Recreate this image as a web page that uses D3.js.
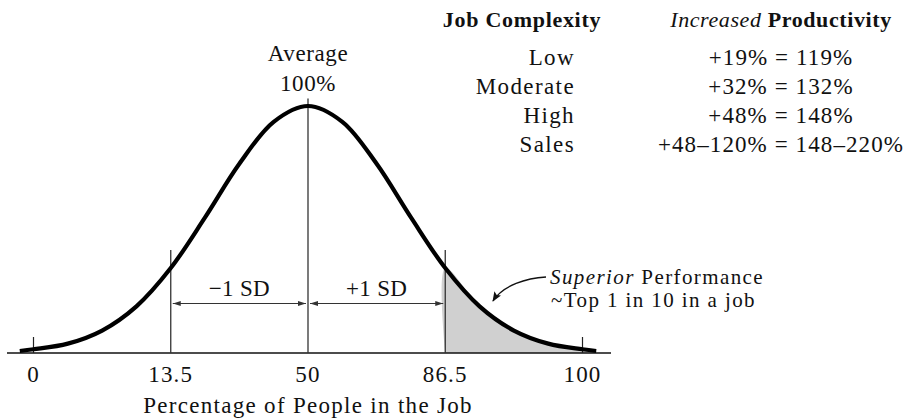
<!DOCTYPE html>
<html>
<head>
<meta charset="utf-8">
<script src="https://cdn.jsdelivr.net/npm/d3@7"></script>
<style>
  body { margin: 0; background: #fff; }
  text { font-family: "Liberation Serif", "Times New Roman", serif; fill: #111; }
</style>
</head>
<body>
<div id="chart"></div>
<script>
// curve: position in SD units, height as share of the peak
const curveZ = [-2.1, -2, -1.75, -1.5, -1.25, -1, -0.75, -0.5, -0.25, 0, 0.25, 0.5, 0.75, 1, 1.25, 1.5, 1.75, 2, 2.1];
const curveH = [0.008, 0.015, 0.038, 0.091, 0.189, 0.344, 0.549, 0.766, 0.936, 1, 0.936, 0.766, 0.549, 0.344, 0.189, 0.091, 0.038, 0.015, 0.008];

const tickZ = [-2, -1, 0, 1, 2];
const tickLabels = ["0", "13.5", "50", "86.5", "100"];

const complexity = ["Low", "Moderate", "High", "Sales"];
const productivity = ["+19% = 119%", "+32% = 132%", "+48% = 148%", "+48\u2013120% = 148\u2013220%"];

const width = 908, height = 419;

const svg = d3.select("#chart")
    .append("svg")
    .attr("width", width)
    .attr("height", height);

const x = d3.scaleLinear().domain([-2, 2]).range([33.5, 582.5]);
const y = d3.scaleLinear().domain([0, 1]).range([353, 106]);

const pts = curveZ.map((z, i) => ({ z: z, h: curveH[i] }));

// shaded top 1 in 10
const shade = [{ z: 1, h: 0 }].concat(pts.filter(d => d.z >= 1)).concat([{ z: 2.1, h: 0 }]);
svg.append("path")
    .datum(shade)
    .attr("d", d3.line().x(d => x(d.z)).y(d => y(d.h)).curve(d3.curveCatmullRom))
    .attr("fill", "#d0d0d0");

// baseline
svg.append("line")
    .attr("x1", 7).attr("x2", 611)
    .attr("y1", y(0)).attr("y2", y(0))
    .attr("stroke", "#111").attr("stroke-width", 1.6);

// small ticks at 0 and 100
svg.selectAll(".endtick")
    .data([tickZ[0], tickZ[4]])
    .enter().append("line")
    .attr("x1", d => x(d)).attr("x2", d => x(d))
    .attr("y1", y(0)).attr("y2", y(0) - 16)
    .attr("stroke", "#222").attr("stroke-width", 1.2);

// vertical lines at -1, 0, +1 SD
svg.selectAll(".sdline")
    .data([tickZ[1], tickZ[2], tickZ[3]])
    .enter().append("line")
    .attr("x1", d => x(d)).attr("x2", d => x(d))
    .attr("y1", y(0))
    .attr("y2", d => d === 0 ? y(1.03) : y(0.417))
    .attr("stroke", "#333").attr("stroke-width", 1.3);

// the curve
svg.append("path")
    .datum(pts)
    .attr("d", d3.line().x(d => x(d.z)).y(d => y(d.h)).curve(d3.curveCatmullRom))
    .attr("fill", "none")
    .attr("stroke", "#000")
    .attr("stroke-width", 4.2);

// arrow markers
const defs = svg.append("defs");
defs.append("marker")
    .attr("id", "sdArrow")
    .attr("markerUnits", "userSpaceOnUse")
    .attr("markerWidth", 8).attr("markerHeight", 6)
    .attr("refX", 8).attr("refY", 3)
    .attr("orient", "auto-start-reverse")
    .append("path").attr("d", "M0,0.5 L8,3 L0,5.5 Z").attr("fill", "#333");
defs.append("marker")
    .attr("id", "noteArrow")
    .attr("markerUnits", "userSpaceOnUse")
    .attr("markerWidth", 10).attr("markerHeight", 8)
    .attr("refX", 9).attr("refY", 4)
    .attr("orient", "auto")
    .append("path").attr("d", "M0,0 L10,4 L0,8 L2,4 Z").attr("fill", "#111");

// +/- 1 SD spans
const spans = [[tickZ[1], tickZ[2], "\u22121 SD"], [tickZ[2], tickZ[3], "+1 SD"]];
const arrowY = y(0) - 49.5;
spans.forEach(s => {
    svg.append("line")
        .attr("x1", x(s[0]) + 2).attr("x2", x(s[1]) - 2)
        .attr("y1", arrowY).attr("y2", arrowY)
        .attr("stroke", "#333").attr("stroke-width", 1.2)
        .attr("marker-start", "url(#sdArrow)")
        .attr("marker-end", "url(#sdArrow)");
    svg.append("text")
        .attr("x", (x(s[0]) + x(s[1])) / 2)
        .attr("y", arrowY - 7.5)
        .attr("text-anchor", "middle")
        .style("font-size", "23px")
        .style("letter-spacing", "0.3px")
        .text(s[2]);
});

// tick labels
svg.selectAll(".ticklab")
    .data(tickZ)
    .enter().append("text")
    .attr("x", d => x(d))
    .attr("y", 382)
    .attr("text-anchor", "middle")
    .style("font-size", "23px")
    .style("letter-spacing", "1.2px")
    .text((d, i) => tickLabels[i]);

svg.append("text")
    .attr("x", x(0))
    .attr("y", 413)
    .attr("text-anchor", "middle")
    .style("font-size", "23px")
    .style("letter-spacing", "1.3px")
    .text("Percentage of People in the Job");

// peak label
["Average", "100%"].forEach((t, i) => {
    svg.append("text")
        .attr("x", x(0))
        .attr("y", 61 + i * 30)
        .attr("text-anchor", "middle")
        .style("font-size", "23px")
        .style("letter-spacing", "0.6px")
        .text(t);
});

// table headers
svg.append("text")
    .attr("x", 522).attr("y", 27)
    .attr("text-anchor", "middle")
    .style("font-size", "22px")
    .style("font-weight", "bold")
    .style("letter-spacing", "0.7px")
    .text("Job Complexity");

const head2 = svg.append("text")
    .attr("x", 781).attr("y", 27)
    .attr("text-anchor", "middle")
    .style("font-size", "22px")
    .style("letter-spacing", "0.6px");
head2.append("tspan").style("font-style", "italic").text("Increased");
head2.append("tspan").style("font-weight", "bold").text(" Productivity");

// table rows
svg.selectAll(".cx")
    .data(complexity)
    .enter().append("text")
    .attr("x", 575)
    .attr("y", (d, i) => 65 + i * 29)
    .attr("text-anchor", "end")
    .style("font-size", "23px")
    .style("letter-spacing", "1.4px")
    .text(d => d);

svg.selectAll(".pr")
    .data(productivity)
    .enter().append("text")
    .attr("x", 781)
    .attr("y", (d, i) => 65 + i * 29)
    .attr("text-anchor", "middle")
    .style("font-size", "23px")
    .style("letter-spacing", "1.1px")
    .text(d => d);

// superior performance note
svg.append("path")
    .attr("d", "M546,277 C527,278 503,285 493,301")
    .attr("fill", "none")
    .attr("stroke", "#111")
    .attr("stroke-width", 1.4)
    .attr("marker-end", "url(#noteArrow)");

const note1 = svg.append("text")
    .attr("x", 550).attr("y", 284)
    .style("font-size", "21px")
    .style("letter-spacing", "1.4px");
note1.append("tspan").style("font-style", "italic").text("Superior");
note1.append("tspan").text(" Performance");

svg.append("text")
    .attr("x", 551).attr("y", 307)
    .style("font-size", "21px")
    .style("letter-spacing", "1.4px")
    .text("~Top 1 in 10 in a job");
</script>
</body>
</html>
